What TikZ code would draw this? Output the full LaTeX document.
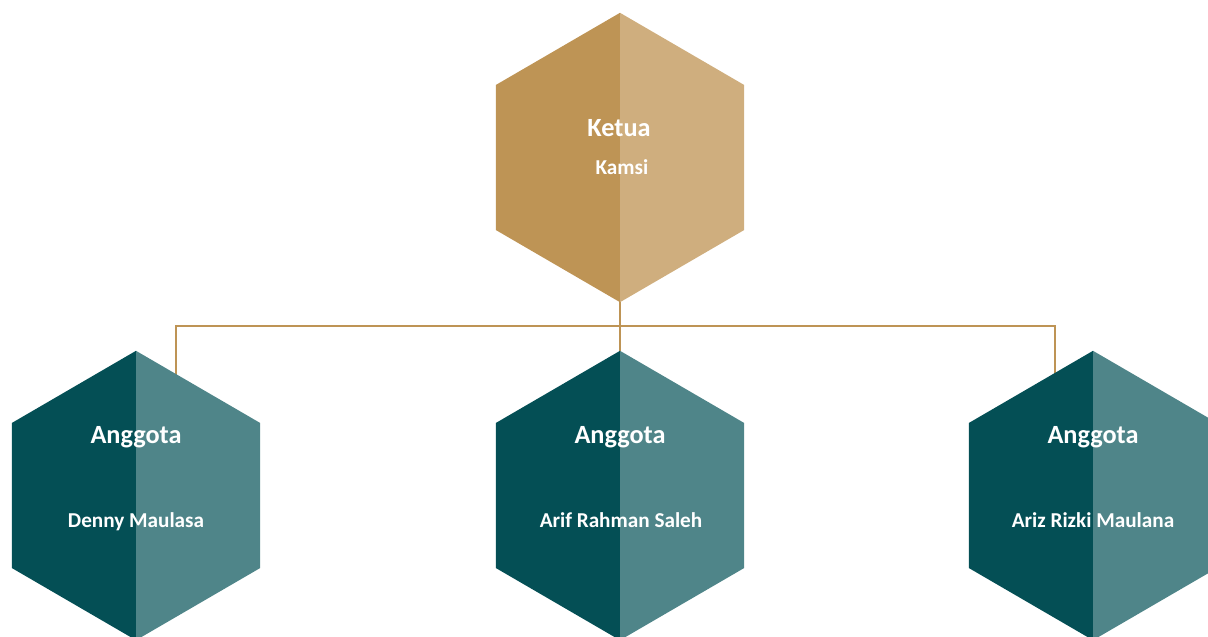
\documentclass[tikz,border=0pt]{standalone}
\usepackage{fontspec}
\setmainfont{Carlito}
\usetikzlibrary{calc}
\pgfdeclarelayer{bg}
\pgfsetlayers{bg,main}

\definecolor{golddark}{HTML}{BE9455}
\definecolor{goldlight}{HTML}{CFAE7E}
\definecolor{tealdark}{HTML}{044F55}
\definecolor{teallight}{HTML}{4F8589}

\tikzset{
	hexbox/.style={minimum width=248pt, minimum height=289pt, inner sep=0pt},
	role/.style={anchor=base, text=white, font=\bfseries\fontsize{26.3}{30}\selectfont},
	person/.style={anchor=base, text=white, font=\bfseries\fontsize{21.2}{24}\selectfont},
	link/.style={draw=golddark, line width=2.5pt},
}

% name, x, y, dark, light
\newcommand{\hexcell}[5]{
	\node[hexbox] (#1) at (#2,#3) {};
	\fill[#4] (#1.north) -- ($(#1.west)+(0,-72.5)$) -- ($(#1.west)+(0,72.5)$) -- (#1.south) -- cycle;
	\fill[#5] (#1.north) -- ($(#1.east)+(0,-72.5)$) -- ($(#1.east)+(0,72.5)$) -- (#1.south) -- cycle;
}

\begin{document}
\begin{tikzpicture}[x=1pt, y=-1pt]
	\useasboundingbox (0,0) rectangle (1208,637);
	\clip (0,0) rectangle (1208,637);

	\hexcell{ketua}{620}{157.5}{golddark}{goldlight}
	\hexcell{anggota1}{136}{495.5}{tealdark}{teallight}
	\hexcell{anggota2}{620}{495.5}{tealdark}{teallight}
	\hexcell{anggota3}{1093}{495.5}{tealdark}{teallight}

	\node[role] (ketuatitle) at (619,136) {Ketua};
	\node[person] (kamsi) at (622,174) {Kamsi};
	\node[role] (title1) at (136,443) {Anggota};
	\node[person] (denny) at (136,527) {Denny Maulasa};
	\node[role] (title2) at (620,443) {Anggota};
	\node[person] (arif) at (621,527) {Arif Rahman Saleh};
	\node[role] (title3) at (1093,443) {Anggota};
	\node[person] (ariz) at (1093,527) {Ariz Rizki Maulana};

	\begin{pgfonlayer}{bg}
		\draw[link] (ketua.south) -- (anggota2.north);
		\draw[link] ($(anggota1.center)+(40,-100)$) -- ($(anggota1.north)+(40,-25)$)
			-- ($(anggota3.north)+(-38,-25)$) -- ($(anggota3.center)+(-38,-100)$);
	\end{pgfonlayer}
\end{tikzpicture}
\end{document}
